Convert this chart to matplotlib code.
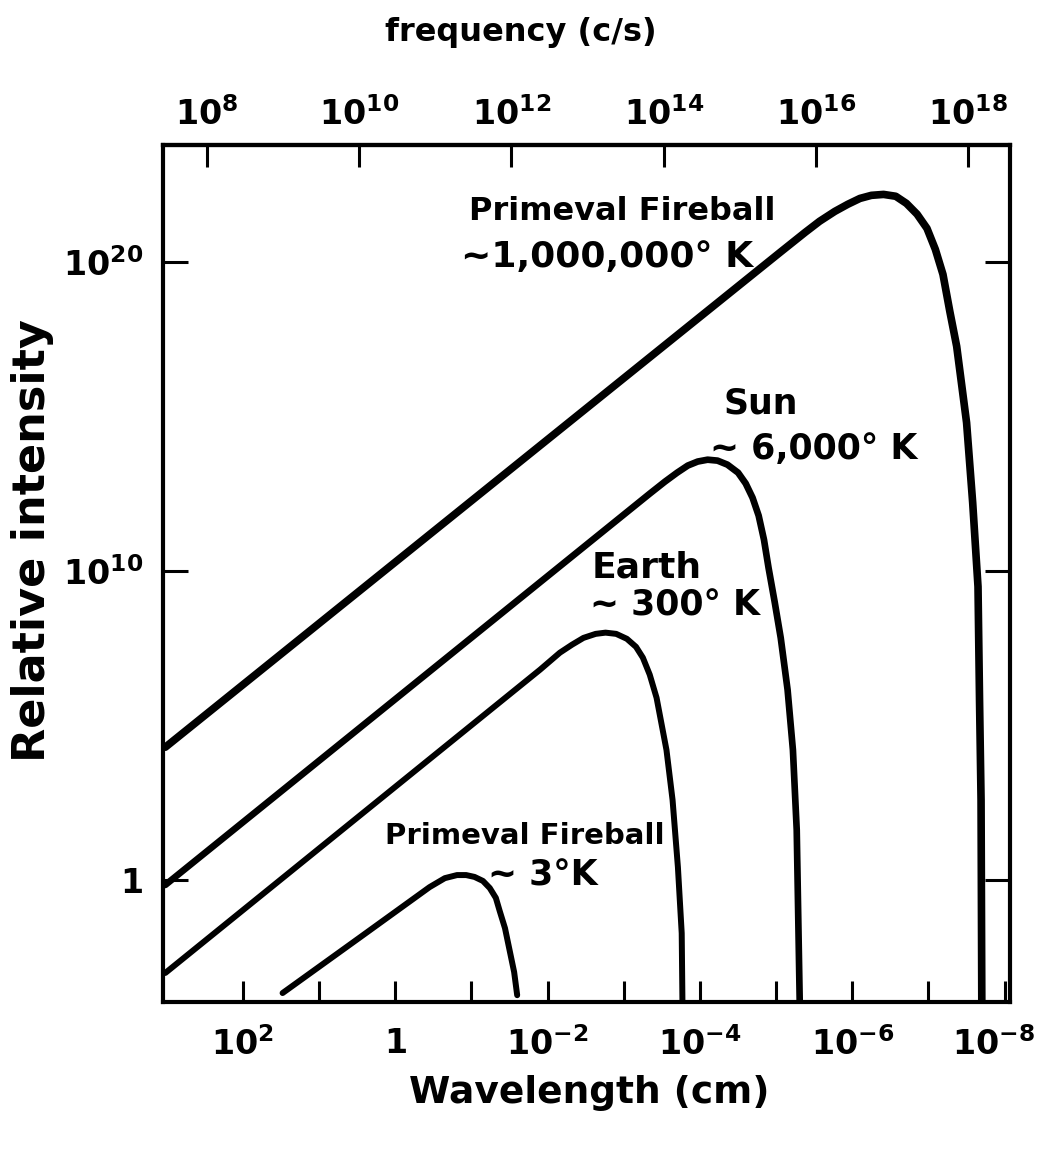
import numpy as np
import matplotlib
matplotlib.use("Agg")
import matplotlib.pyplot as plt
from matplotlib.ticker import NullLocator
from matplotlib.transforms import ScaledTranslation

plt.rcParams['font.family'] = ['DejaVu Sans']
plt.rcParams['font.weight'] = 'bold'
plt.rcParams['mathtext.default'] = 'bf'

C_LIGHT = 3e10  # cm/s

# curves: log10 wavelength (cm), log10 relative intensity
hot_loglam = [3.02, -5.05, -5.38, -5.57, -5.77, -5.94, -6.10, -6.25, -6.41, -6.57,
              -6.71, -6.85, -6.98, -7.09, -7.19, -7.28, -7.37, -7.50, -7.58, -7.65,
              -7.67, -7.69, -7.70]
hot_logI = [4.30, 20.32, 20.97, 21.33, 21.65, 21.88, 22.07, 22.17, 22.20, 22.14,
            21.91, 21.56, 21.10, 20.42, 19.61, 18.41, 17.28, 14.81, 12.22, 9.50,
            5.83, 2.59, -4.05]

sun_loglam = [3.02, -3.34, -3.54, -3.70, -3.84, -3.97, -4.10, -4.23, -4.36, -4.50,
              -4.60, -4.69, -4.77, -4.84, -4.90, -4.98, -5.06, -5.15, -5.22, -5.27,
              -5.31]
sun_logI = [-0.16, 12.51, 12.90, 13.19, 13.42, 13.55, 13.61, 13.58, 13.45, 13.19,
            12.84, 12.38, 11.80, 11.02, 10.11, 9.01, 7.84, 6.16, 4.21, 1.62,
            -4.05]

earth_loglam = [3.02, -1.90, -2.16, -2.32, -2.47, -2.63, -2.76, -2.90, -3.04, -3.16,
                -3.25, -3.34, -3.43, -3.56, -3.64, -3.71, -3.76, -3.77]
earth_logI = [-3.01, 6.81, 7.36, 7.62, 7.84, 7.97, 8.01, 7.97, 7.81, 7.55,
              7.20, 6.65, 5.90, 4.21, 2.59, 0.42, -1.72, -4.05]

cold_loglam = [1.48, 0.46, -0.45, -0.65, -0.81, -0.93, -1.04, -1.15, -1.24, -1.32,
               -1.37, -1.44, -1.50, -1.56, -1.60]
cold_logI = [-3.66, -1.85, -0.23, 0.06, 0.16, 0.16, 0.10, -0.03, -0.26, -0.58,
             -1.00, -1.56, -2.27, -2.98, -3.73]

wl_ticks = [1e2, 1, 1e-2, 1e-4, 1e-6, 1e-8]
wl_labels = [r'$10^{2}$', '1', r'$10^{-2}$', r'$10^{-4}$', r'$10^{-6}$', r'$10^{-8}$']
wl_minor = [1e1, 1e-1, 1e-3, 1e-5, 1e-7]
freq_ticks = [1e8, 1e10, 1e12, 1e14, 1e16, 1e18]
freq_labels = [r'$10^{8}$', r'$10^{10}$', r'$10^{12}$', r'$10^{14}$', r'$10^{16}$', r'$10^{18}$']
int_ticks = [1, 1e10, 1e20]
int_labels = ['1', r'$10^{10}$', r'$10^{20}$']

W, H = 1042, 1151
fig = plt.figure(figsize=(W / 100, H / 100), dpi=100)
ax = fig.add_axes([163 / W, 1 - 1002 / H, (1010 - 163) / W, (1002 - 145) / H])

curves = [(hot_loglam, hot_logI, 5.5), (sun_loglam, sun_logI, 4.8),
          (earth_loglam, earth_logI, 4.3), (cold_loglam, cold_logI, 4.3)]
for lam, inten, lw in curves:
    ax.plot(10.0 ** np.array(lam), 10.0 ** np.array(inten), color='black',
            lw=lw, solid_capstyle='round', solid_joinstyle='round')

ax.set_xscale('log')
ax.set_yscale('log')
ax.set_xlim(10 ** 3.05, 10 ** -8.07)
ax.set_ylim(10 ** -3.95, 10 ** 23.8)

ax.set_xticks(wl_ticks, wl_labels)
ax.set_xticks(wl_minor, minor=True)
ax.xaxis.set_minor_formatter(plt.NullFormatter())
ax.set_yticks(int_ticks, int_labels)
ax.yaxis.set_minor_locator(NullLocator())
ax.tick_params(axis='x', which='both', direction='in', length=15, width=2.2,
               labelsize=24, pad=18)
ax.tick_params(axis='y', which='both', direction='in', length=18, width=2.2,
               labelsize=24, pad=14, right=True)
for s in ax.spines.values():
    s.set_linewidth(3)

# last wavelength label sits a little left of its tick, as in the original
last = ax.get_xticklabels()[-1]
last.set_transform(last.get_transform() + ScaledTranslation(-0.11, 0, fig.dpi_scale_trans))

secax = ax.secondary_xaxis('top', functions=(lambda x: C_LIGHT / x, lambda x: C_LIGHT / x))
secax.set_xticks(freq_ticks, freq_labels)
secax.xaxis.set_minor_locator(NullLocator())
secax.tick_params(axis='x', direction='in', length=16, width=2.2, labelsize=24, pad=9)
secax.spines['top'].set_linewidth(3)


def px_text(x, y, s, size, **kw):
    fig.text(x / W, 1 - y / H, s, fontsize=size, fontweight='heavy',
             ha='center', va='center', **kw)


px_text(521, 33, 'frequency (c/s)', 23)
px_text(589, 1093, 'Wavelength (cm)', 27)
px_text(33, 541, 'Relative intensity', 32, rotation=90)

px_text(622, 212, 'Primeval Fireball', 23)
px_text(607, 257, '~1,000,000° K', 26)
px_text(761, 403, 'Sun', 25)
px_text(814, 449, '~ 6,000° K', 25)
px_text(647, 568, 'Earth', 26)
px_text(675, 606, '~ 300° K', 25)
px_text(525, 836, 'Primeval Fireball', 21)
px_text(543, 875, '~ 3°K', 25)

fig.savefig('out.png', dpi=100)
